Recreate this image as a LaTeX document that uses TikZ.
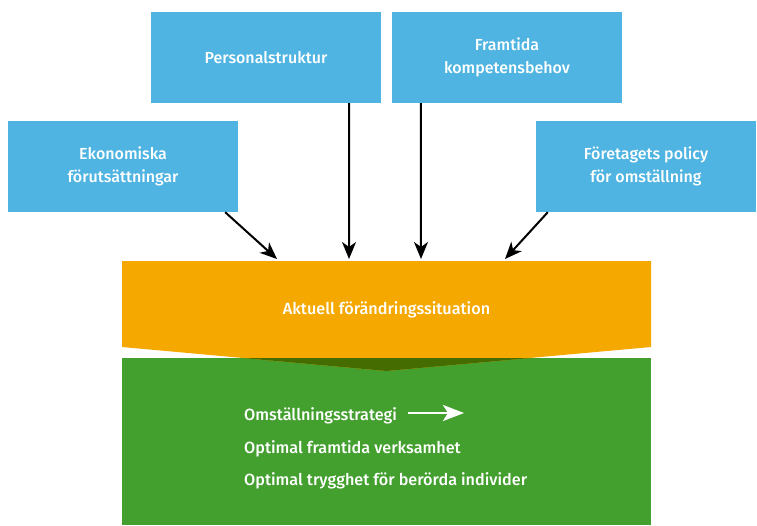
\documentclass[tikz,border=0pt]{standalone}
\usepackage{fontspec}
\setmainfont{Fira Sans Medium}
\usetikzlibrary{arrows.meta,positioning,calc}
\definecolor{boxblue}{RGB}{79,180,225}
\definecolor{sitorange}{RGB}{245,168,0}
\definecolor{stratgreen}{RGB}{67,160,46}
\definecolor{darkgreen}{RGB}{69,108,0}
\tikzset{
  factorbox/.style={fill=boxblue,minimum width=230pt,minimum height=91pt,
    inner sep=0pt,align=center,text=white,font=\fontsize{16}{23}\selectfont},
  greentext/.style={anchor=west,inner sep=0pt,text=white,font=\fontsize{16.2}{18}\selectfont},
  flowarrow/.style={-{Stealth[length=17pt,width=14pt,inset=5pt]},line width=2pt,draw=black},
  whitearrow/.style={-{Stealth[length=21pt,width=16pt,inset=5pt]},line width=2.6pt,draw=white},
}

\begin{document}
\begin{tikzpicture}[x=1pt,y=-1pt]
        \useasboundingbox (0,0) rectangle (757,525);
        % influencing factors
        \node[factorbox] (pers) at (266,57.5) {Personalstruktur};
        \node[factorbox] (fram) at (507,57.5) {Framtida\\kompetensbehov};
        \node[factorbox] (ekon) at (123,166.5) {Ekonomiska\\förutsättningar};
        \node[factorbox,minimum width=220pt] (policy) at (646,166.5) {Företagets policy\\för omställning};
        % situation and strategy
        \fill[stratgreen] (122,358) rectangle (651,525);
        \fill[sitorange] (122,261) -- (651,261) -- (651,347) -- (386.5,371)
          -- (122,347) -- cycle;
        \fill[darkgreen] (243,358) -- (530,358) -- (386.5,371) -- cycle;
        \node[text=white,font=\fontsize{16.2}{18}\selectfont] (situation) at (386.5,310)
          {Aktuell förändringssituation};
        \node[greentext] (strat) at (244,415.5) {Omställningsstrategi};
        \node[greentext] (verks) at (244,448.5) {Optimal framtida verksamhet};
        \node[greentext] (trygg) at (244,480.5) {Optimal trygghet för berörda individer};
        \coordinate (stratend) at (464,413);
        \draw[whitearrow] (408,413) -- (stratend);
        % arrows into the situation
        \coordinate (in1) at (277,259);
        \coordinate (in2) at (349,259);
        \coordinate (in3) at (421,259);
        \coordinate (in4) at (505,259);
        \draw[flowarrow] ([xshift=-13pt]ekon.south east) -- (in1);
        \draw[flowarrow] ([xshift=-32pt]pers.south east) -- (in2);
        \draw[flowarrow] ([xshift=29pt]fram.south west) -- (in3);
        \draw[flowarrow] ([xshift=12pt]policy.south west) -- (in4);
      \end{tikzpicture}
\end{document}
